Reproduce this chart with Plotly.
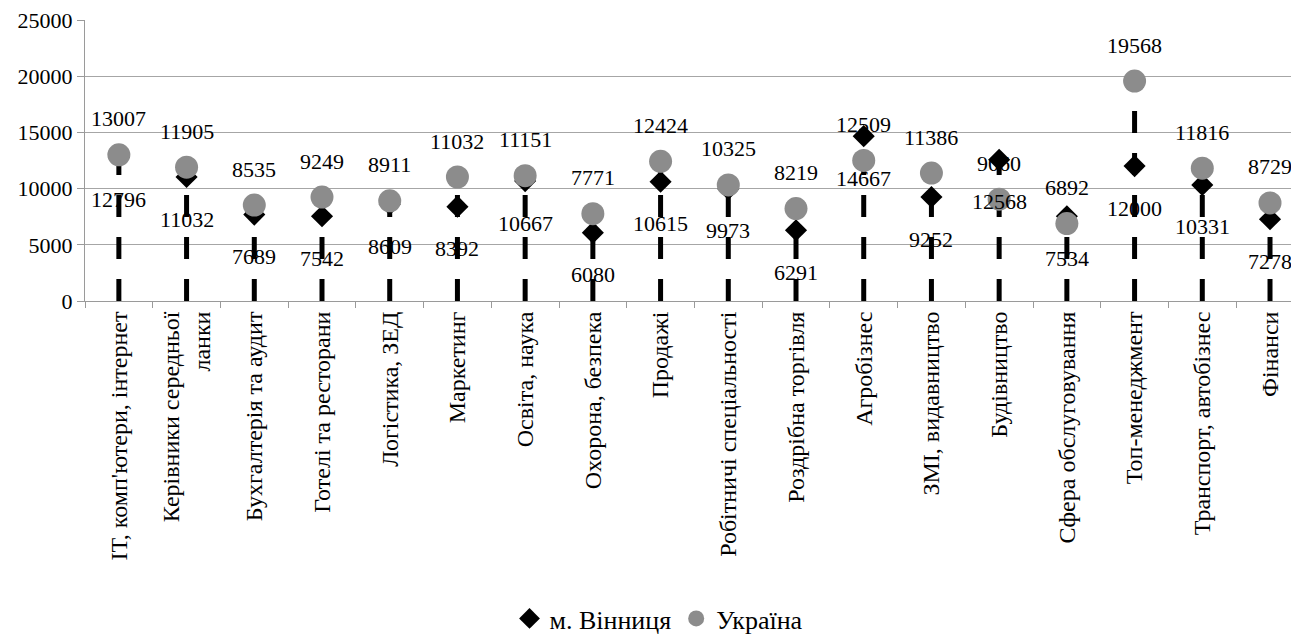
import plotly.graph_objects as go

categories = [
    "ІТ, комп'ютери, інтернет",
    "Керівники середньої<br>ланки",
    "Бухгалтерія та аудит",
    "Готелі та ресторани",
    "Логістика, ЗЕД",
    "Маркетинг",
    "Освіта, наука",
    "Охорона, безпека",
    "Продажі",
    "Робітничі спеціальності",
    "Роздрібна торгівля",
    "Агробізнес",
    "ЗМІ, видавництво",
    "Будівництво",
    "Сфера обслуговування",
    "Топ-менеджмент",
    "Транспорт, автобізнес",
    "Фінанси",
]
vinnytsia = [12796, 11032, 7689, 7542, 8609, 8392, 10667, 6080, 10615, 9973,
             6291, 14667, 9252, 12568, 7534, 12000, 10331, 7278]
ukraine = [13007, 11905, 8535, 9249, 8911, 11032, 11151, 7771, 12424, 10325,
           8219, 12509, 11386, 9060, 6892, 19568, 11816, 8729]
y_ticks = [0, 5000, 10000, 15000, 20000, 25000]

FONT = "Times New Roman, Liberation Serif, DejaVu Serif, serif"

fig = go.Figure()

# drop lines from the higher of the two values down to the axis
lx, ly = [], []
for c, v, u in zip(categories, vinnytsia, ukraine):
    lx += [c, c, None]
    ly += [0, max(v, u), None]
fig.add_trace(go.Scatter(x=lx, y=ly, mode="lines", showlegend=False, hoverinfo="skip",
                         line=dict(color="black", width=5, dash="22px,20px")))

fig.add_trace(go.Scatter(x=categories, y=vinnytsia, mode="markers", name="м. Вінниця",
                         marker=dict(symbol="diamond", size=17, color="black")))
fig.add_trace(go.Scatter(x=categories, y=ukraine, mode="markers", name="Україна",
                         marker=dict(symbol="circle", size=23, color="#8c8c8c")))

for c, v, u in zip(categories, vinnytsia, ukraine):
    fig.add_annotation(x=c, y=u, text=str(u), showarrow=False, yshift=36,
                       font=dict(family=FONT, size=22, color="black"))
    fig.add_annotation(x=c, y=v, text=str(v), showarrow=False, yshift=-42,
                       font=dict(family=FONT, size=22, color="black"))

fig.update_layout(
    width=1291, height=642,
    margin=dict(l=85, r=0, t=20, b=338),
    paper_bgcolor="white", plot_bgcolor="white",
    font=dict(family=FONT, size=22, color="black"),
    showlegend=True,
    legend=dict(orientation="h", x=0.352, xanchor="left", y=-1.13, yanchor="middle",
                font=dict(family=FONT, size=26, color="black"),
                itemwidth=30, tracegroupgap=0, bgcolor="rgba(0,0,0,0)"),
    xaxis=dict(type="category", range=[-0.5, 17.31], tickangle=-90,
               showgrid=False, showline=True, linecolor="#9a9a9a", linewidth=1,
               ticks="outside", tickson="boundaries", ticklen=6, tickcolor="#9a9a9a",
               tickfont=dict(family=FONT, size=24, color="black")),
    yaxis=dict(range=[0, 25000], tickvals=y_ticks, ticktext=[str(t) for t in y_ticks],
               showgrid=True, gridcolor="#a6a6a6", gridwidth=1,
               showline=True, linecolor="#9a9a9a", linewidth=1,
               ticks="outside", ticklen=7, tickcolor="#9a9a9a", zeroline=False,
               tickfont=dict(family=FONT, size=22, color="black")),
)

post = "document.body.style.margin='0';"
fig.write_html("out.html", post_script=post, config={"displayModeBar": False})
